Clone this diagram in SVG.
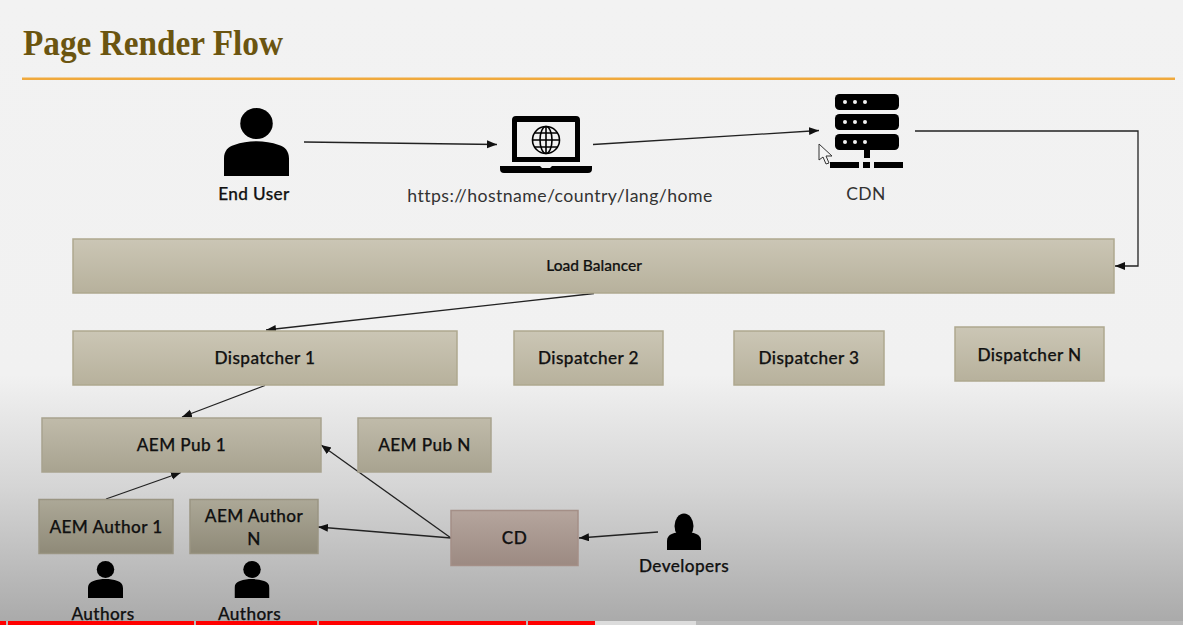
<svg xmlns="http://www.w3.org/2000/svg" width="1183" height="625" viewBox="0 0 1183 625">
<style>
text{font-family:"Lato","Noto Sans","Liberation Sans",sans-serif;fill:#111;text-anchor:middle}
.b{font-size:17.2px;font-weight:500;letter-spacing:.4px;stroke:#111;stroke-width:.25px}
.box{stroke-width:1.5}
.c{fill:none;stroke:#222;stroke-width:1.3;marker-end:url(#a)}
</style>
<defs>
<linearGradient id="bg" x1="0" y1="0" x2="0" y2="1"><stop offset="0" stop-color="#f2f2f2"/><stop offset=".6" stop-color="#f1f1f1"/><stop offset=".78" stop-color="#d5d5d5"/><stop offset="1" stop-color="#a9a9a9"/></linearGradient>
<linearGradient id="g1" x1="0" y1="0" x2="0" y2="1"><stop offset="0" stop-color="#cbc6b5"/><stop offset="1" stop-color="#b7b19c"/></linearGradient>
<linearGradient id="g2" x1="0" y1="0" x2="0" y2="1"><stop offset="0" stop-color="#c0bbaa"/><stop offset="1" stop-color="#a8a390"/></linearGradient>
<linearGradient id="g4" x1="0" y1="0" x2="0" y2="1"><stop offset="0" stop-color="#aca897"/><stop offset="1" stop-color="#8f8a78"/></linearGradient>
<linearGradient id="g3" x1="0" y1="0" x2="0" y2="1"><stop offset="0" stop-color="#b5a59d"/><stop offset="1" stop-color="#9c8a82"/></linearGradient>
<marker id="a" markerUnits="userSpaceOnUse" markerWidth="11" markerHeight="9" refX="10" refY="4" orient="auto"><path d="M0 0L10 4L0 8Z" fill="#111"/></marker>
<symbol id="person" viewBox="0 0 64 70" preserveAspectRatio="none"><circle cx="32" cy="16" r="16"/><path d="M0 70V52C0 44 4 40 10 38C24 33 40 33 54 38C60 40 64 44 64 52V70Z"/></symbol>
</defs>
<rect id="background" width="1183" height="625" fill="url(#bg)"/>
<g id="title"><text x="23" y="55" style="text-anchor:start;font-family:'Liberation Serif',serif;font-weight:700;font-size:35px;fill:#6b5510" textLength="260" lengthAdjust="spacingAndGlyphs">Page Render Flow</text><rect x="22" y="77.5" width="1153" height="2.5" fill="#f0a93c"/></g>
<g id="connectors">
<path class="c" d="M304 142L497 144.500"/>
<path class="c" d="M593 144.500L819 130.500"/>
<path class="c" d="M915 131H1138V266H1115"/>
<path class="c" d="M594 293.500L266 330"/>
<path class="c" d="M265 385.500L182 417"/>
<path class="c" d="M106 499L181 472.500"/>
<path class="c" d="M451 538L321 445"/>
<path class="c" d="M451 538L318 527"/>
<path class="c" d="M658 532L579 538"/>
</g>
<g id="end-user"><use href="#person" x="224" y="108" width="65" height="68"/><text x="254" y="199.500" class="b">End User</text></g>
<g id="browser">
<path d="M516 116H576Q580 116 580 120V162H512V120Q512 116 516 116ZM517 122V157H575V122Z" fill-rule="evenodd"/>
<path d="M500 166H540L542 168H550L552 166H592V169Q592 173 588 173H504Q500 173 500 169Z"/>
<g fill="none" stroke="#000" stroke-width="1.6"><circle cx="546" cy="140" r="13.500"/><ellipse cx="546" cy="140" rx="6" ry="13.500"/><path d="M546 126.500V153.500M532.500 140H559.500M534.500 133H557.500M534.500 147H557.500"/></g>
<text x="560" y="202" style="font-size:17.700px;fill:#333;letter-spacing:.42px">https://hostname/country/lang/home</text>
</g>
<g id="cdn">
<rect x="835" y="94" width="64" height="16" rx="4.500"/><rect x="835" y="114" width="64" height="16" rx="4.500"/><rect x="835" y="134" width="64" height="16" rx="4.500"/>
<g fill="#f2f2f2"><circle cx="845" cy="102" r="2"/><circle cx="855" cy="102" r="2"/><circle cx="865" cy="102" r="2"/><circle cx="845" cy="122" r="2"/><circle cx="855" cy="122" r="2"/><circle cx="865" cy="122" r="2"/><circle cx="845" cy="142" r="2"/><circle cx="855" cy="142" r="2"/><circle cx="865" cy="142" r="2"/></g>
<rect x="864" y="150" width="6" height="8"/><rect x="830" y="162" width="29" height="6"/><rect x="863" y="162" width="7" height="6"/><rect x="874" y="162" width="29" height="6"/>
<text x="866" y="199.500" style="font-size:17.500px;fill:#333;letter-spacing:.4px">CDN</text>
</g>
<g id="cursor"><path d="M819 144L819 160L823 157L826 164L829 163L826 156L832 156Z" fill="#f4f4f4" stroke="#333" stroke-width="1"/></g>
<g id="load-balancer"><rect class="box" x="73" y="239" width="1041" height="54" fill="url(#g1)" stroke="#aea88f"/><text x="594" y="271" style="font-size:15.500px;font-weight:500;stroke:#111;stroke-width:.2px">Load Balancer</text></g>
<g id="dispatcher-1"><rect class="box" x="73" y="331" width="384" height="54" fill="url(#g1)" stroke="#aea88f"/><text x="265" y="364" class="b">Dispatcher 1</text></g>
<g id="dispatcher-2"><rect class="box" x="514" y="331" width="149" height="54" fill="url(#g1)" stroke="#aea88f"/><text x="588.500" y="364" class="b">Dispatcher 2</text></g>
<g id="dispatcher-3"><rect class="box" x="734" y="331" width="150" height="54" fill="url(#g1)" stroke="#aea88f"/><text x="809" y="364" class="b">Dispatcher 3</text></g>
<g id="dispatcher-n"><rect class="box" x="955" y="327" width="149" height="54" fill="url(#g1)" stroke="#aea88f"/><text x="1029.500" y="361" class="b">Dispatcher N</text></g>
<g id="aem-pub-1"><rect class="box" x="42" y="418" width="279" height="54" fill="url(#g2)" stroke="#a8a38e"/><text x="181.500" y="451" class="b">AEM Pub 1</text></g>
<g id="aem-pub-n"><rect class="box" x="358" y="418" width="133" height="54" fill="url(#g2)" stroke="#a8a38e"/><text x="424.500" y="451" class="b">AEM Pub N</text></g>
<g id="aem-author-1"><rect class="box" x="39" y="499.500" width="134" height="54" fill="url(#g4)" stroke="#9a9583"/><text x="106" y="533" class="b">AEM Author 1</text></g>
<g id="aem-author-n"><rect class="box" x="190" y="499.500" width="128" height="54" fill="url(#g4)" stroke="#9a9583"/><text x="254" y="522" class="b">AEM Author</text><text x="254" y="545" class="b">N</text></g>
<g id="cd"><rect class="box" x="451" y="510.500" width="127" height="55" fill="url(#g3)" stroke="#a48f87"/><text x="514.500" y="544" class="b">CD</text></g>
<g id="developers"><ellipse cx="684" cy="526" rx="9.500" ry="12.500"/><path d="M667 550V541C667 534 674 532 684 532S701 534 701 541V550Z"/><text x="684" y="572" class="b">Developers</text></g>
<g id="authors-1"><use href="#person" x="88" y="561" width="35" height="37"/><text x="103" y="620" class="b">Authors</text></g>
<g id="authors-2"><use href="#person" x="234.500" y="561" width="35" height="37"/><text x="249.500" y="620" class="b">Authors</text></g>
<g id="progress-bar">
<rect y="621" width="1183" height="4" fill="#b9b9b9"/>
<rect x="595" y="621" width="101" height="4" fill="#dcdcdc"/>
<path d="M0 621H6V625H0ZM8 621H194V625H8ZM196 621H317V625H196ZM319 621H526V625H319ZM528 621H595V625H528Z" fill="#f00"/>
</g>
</svg>
